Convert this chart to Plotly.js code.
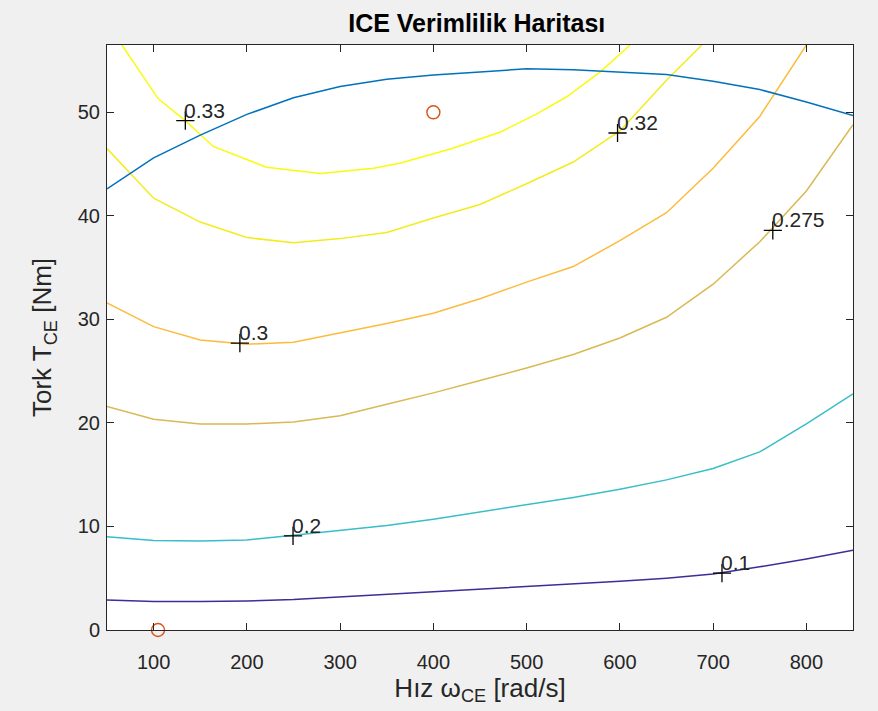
<!DOCTYPE html>
<html>
<head>
<meta charset="utf-8">
<script src="https://cdn.plot.ly/plotly-3.0.1.min.js"></script>
<style>html,body{margin:0;padding:0;background:#f0f0f0;}#chart{width:878px;height:711px;}</style>
</head>
<body>
<div id="chart"></div>
<script>
// Speed grid (rad/s)
const speed = [50,100,150,200,250,300,350,400,450,500,550,600,650,700,750,800,850];

// Contour: efficiency 0.1
const eff010_x = speed;
const eff010_y = [2.9,2.75,2.75,2.8,2.95,3.2,3.45,3.65,3.9,4.15,4.4,4.7,5.0,5.4,6.1,6.85,7.7];
// Contour: efficiency 0.2
const eff020_x = speed;
const eff020_y = [9.0,8.65,8.6,8.7,9.15,9.6,10.1,10.7,11.4,12.1,12.8,13.6,14.5,15.6,17.2,19.9,22.8];
// Contour: efficiency 0.275
const eff0275_x = speed;
const eff0275_y = [21.6,20.35,19.9,19.9,20.1,20.7,21.8,22.9,24.1,25.3,26.6,28.2,30.2,33.4,37.5,42.4,48.8];
// Contour: efficiency 0.3
const eff030_x = [50,100,150,200,250,300,350,400,450,500,550,600,650,700,750,800];
const eff030_y = [31.6,29.3,28.0,27.6,27.8,28.7,29.6,30.6,32.0,33.6,35.1,37.6,40.3,44.6,49.6,56.5];
// Contour: efficiency 0.32
const eff032_x = [50,100,150,200,250,300,350,400,450,500,550,600,650,688];
const eff032_y = [46.5,41.7,39.4,37.9,37.4,37.8,38.4,39.8,41.1,43.1,45.2,48.2,53.1,56.5];
// Contour: efficiency 0.33
const eff033_x = [66,105,134,164,221,279,336,365,420,472,510,543,579,611];
const eff033_y = [56.5,51.3,49.2,46.7,44.7,44.1,44.6,45.1,46.5,48.1,49.8,51.5,53.9,56.5];

// Maximum torque curve
const tmax_x = speed;
const tmax_y = [42.6,45.6,47.8,49.8,51.4,52.5,53.2,53.6,53.9,54.2,54.1,53.9,53.65,53.0,52.2,51.0,49.7];

// Operating points (circles)
const op_x = [104.7, 400];
const op_y = [0, 50];

// Contour labels
const label_x = [134, 597.5, 192.5, 764, 249.5, 709.5];
const label_y = [49.2, 48.0, 27.7, 38.6, 9.1, 5.5];
const label_text = ['0.33', '0.32', '0.3', '0.275', '0.2', '0.1'];

const xTicks = [100,200,300,400,500,600,700,800];
const yTicks = [0,10,20,30,40,50];

const FONT = 'Liberation Sans, Arial, Helvetica, sans-serif';
const AX = '#262626';

function contour(x, y, color) {
  return {x: x, y: y, type: 'scatter', mode: 'lines', hoverinfo: 'skip',
          line: {color: color, width: 1.5}, showlegend: false};
}

const data = [
  contour(eff010_x, eff010_y, '#3a2e98'),
  contour(eff020_x, eff020_y, '#38bec8'),
  contour(eff0275_x, eff0275_y, '#d9b953'),
  contour(eff030_x, eff030_y, '#fcbb3d'),
  contour(eff032_x, eff032_y, '#f3ec1c'),
  contour(eff033_x, eff033_y, '#f9fb0e'),
  {x: label_x, y: label_y, type: 'scatter', mode: 'markers', showlegend: false,
   marker: {symbol: 'cross-thin', size: 13, line: {color: '#000000', width: 1.3}}},
  {x: tmax_x, y: tmax_y, type: 'scatter', mode: 'lines', showlegend: false,
   line: {color: '#0072bd', width: 1.5}},
  {x: op_x, y: op_y, type: 'scatter', mode: 'markers', showlegend: false, cliponaxis: false,
   marker: {symbol: 'circle-open', size: 13, color: '#d95319', line: {color: '#d95319', width: 1.4}}}
];

const annotations = label_text.map((t, i) => ({
  x: label_x[i], y: label_y[i], xref: 'x', yref: 'y', text: t, showarrow: false,
  xanchor: 'left', yanchor: 'bottom', xshift: -3, yshift: -3,
  font: {family: FONT, size: 21, color: '#262626'}
}));

const axisCommon = {
  showgrid: false, zeroline: false, showline: true, linecolor: AX, linewidth: 1,
  mirror: 'ticks', ticks: 'inside', ticklen: 7, tickwidth: 1, tickcolor: AX,
  tickfont: {family: FONT, size: 20, color: AX}
};

const layout = {
  width: 878, height: 711,
  paper_bgcolor: '#f0f0f0', plot_bgcolor: '#ffffff',
  margin: {l: 107, r: 25, t: 45, b: 81, pad: 0},
  title: {text: '<b>ICE Verimlilik Haritası</b>', font: {family: FONT, size: 25, color: '#000000'},
          x: 0.543, xref: 'container', y: 0.968, yref: 'container', xanchor: 'center', yanchor: 'middle'},
  xaxis: Object.assign({}, axisCommon, {
    range: [50, 850], tickvals: xTicks, ticktext: xTicks.map(String), ticklabelstandoff: 14,
    title: {text: 'Hız ω<sub>CE</sub> [rad/s]', font: {family: FONT, size: 26, color: AX}, standoff: 3}
  }),
  yaxis: Object.assign({}, axisCommon, {
    range: [0, 56.5], tickvals: yTicks, ticktext: yTicks.map(String), ticklabelstandoff: 2,
    title: {text: 'Tork T<sub>CE</sub> [Nm]', font: {family: FONT, size: 26, color: AX}, standoff: 18}
  }),
  annotations: annotations,
  showlegend: false
};

Plotly.newPlot('chart', data, layout, {displayModeBar: false, staticPlot: true});
</script>
</body>
</html>
